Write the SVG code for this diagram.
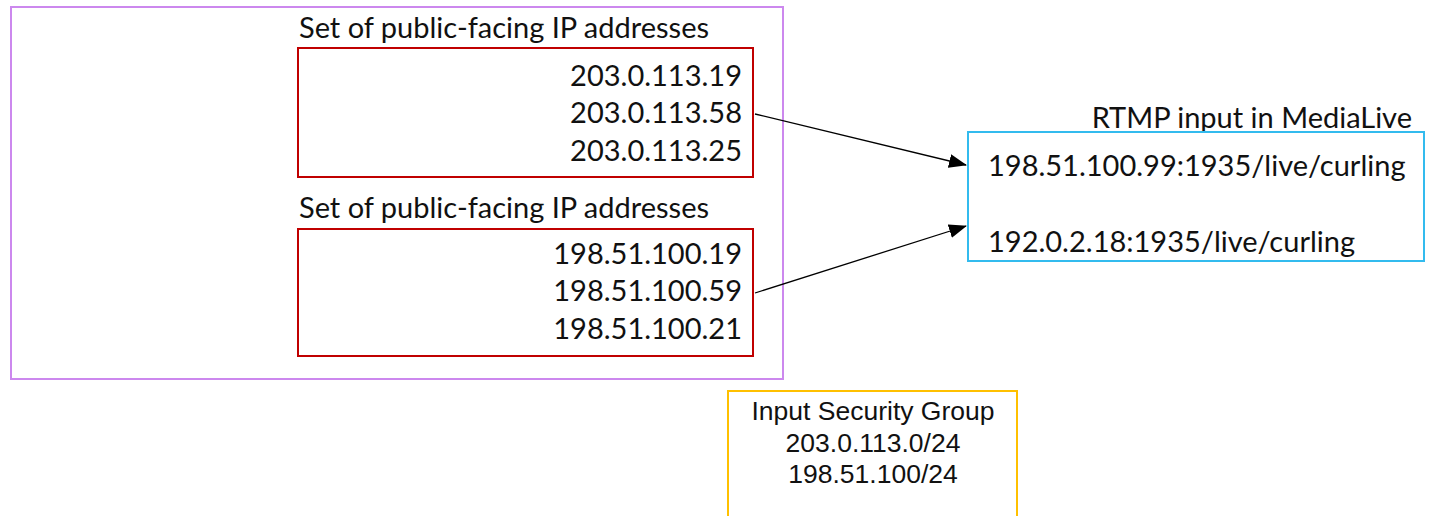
<svg xmlns="http://www.w3.org/2000/svg" width="1431" height="516" viewBox="0 0 1431 516">
<style>
.t{font-family:Lato,"Liberation Sans",sans-serif;font-size:29px;fill:#111}
.o{font-family:"Liberation Sans",Arial,sans-serif;font-size:26.5px;fill:#111}
.r{text-anchor:end}
.c{text-anchor:middle}
.box{fill:none;stroke-width:2}
</style>
<defs>
<marker id="ah" markerWidth="18" markerHeight="14" refX="17" refY="7" orient="auto" markerUnits="userSpaceOnUse">
<path d="M0,0 L18,7 L0,14 Z" fill="#000"/>
</marker>
</defs>
<g id="outer">
<rect class="box" x="11" y="7" width="772" height="372" stroke="#cc88ee"/>
</g>
<g id="set1">
<text class="t" x="299" y="38">Set of public-facing IP addresses</text>
<rect class="box" x="298" y="48" width="455" height="129" stroke="#c00000"/>
<text class="t r" x="742" y="86">203.0.113.19</text>
<text class="t r" x="742" y="123">203.0.113.58</text>
<text class="t r" x="742" y="161">203.0.113.25</text>
</g>
<g id="set2">
<text class="t" x="299" y="218">Set of public-facing IP addresses</text>
<rect class="box" x="298" y="229" width="455" height="127" stroke="#c00000"/>
<text class="t r" x="742" y="264">198.51.100.19</text>
<text class="t r" x="742" y="301">198.51.100.59</text>
<text class="t r" x="742" y="339">198.51.100.21</text>
</g>
<g id="rtmp">
<text class="t r" x="1412" y="128">RTMP input in MediaLive</text>
<rect class="box" x="968" y="132" width="456" height="129" stroke="#33bbee"/>
<text class="t" x="988" y="176">198.51.100.99:1935/live/curling</text>
<text class="t" x="988" y="252">192.0.2.18:1935/live/curling</text>
</g>
<g id="isg">
<path class="box" d="M728,517 V391 H1017 V517" stroke="#ffc000"/>
<text class="o c" x="873" y="420">Input Security Group</text>
<text class="o c" x="873" y="452">203.0.113.0/24</text>
<text class="o c" x="873" y="483">198.51.100/24</text>
</g>
<g id="connectors" stroke="#000" stroke-width="1.3" fill="none">
<line x1="755" y1="114" x2="966" y2="165" marker-end="url(#ah)"/>
<line x1="755" y1="293" x2="966" y2="226" marker-end="url(#ah)"/>
</g>
</svg>
